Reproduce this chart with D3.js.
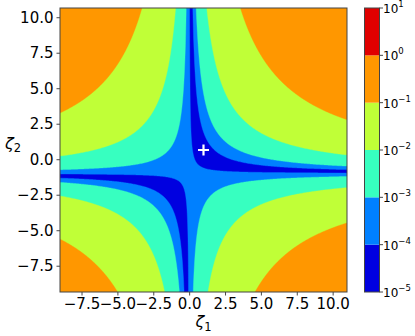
<!DOCTYPE html>
<html>
<head>
<meta charset="utf-8">
<script src="https://cdn.jsdelivr.net/npm/d3@7"></script>
<style>
  html, body { margin: 0; padding: 0; background: #fff; }
  text { font-family: "DejaVu Sans", sans-serif; fill: #000; }
</style>
</head>
<body>
<svg id="chart" width="415" height="336"></svg>
<script>
// contour levels as powers of ten, one colour per band between them
var levelExponents = [-5, -4, -3, -2, -1, 0, 1];
var bandColors = ['#0000e0', '#0080ff', '#37ffc0', '#c0ff37', '#ff9700', '#e00000'];

var xTicks = [-7.5, -5, -2.5, 0, 2.5, 5, 7.5, 10];
var yTicks = [-7.5, -5, -2.5, 0, 2.5, 5, 7.5, 10];
var xDomain = [-9, 11];
var yDomain = [-9.35, 10.65];

// the white cross, sits on the zero set of the loss
var marker = [1, 0.65];

// loss surface: k * (z1 * (z2 + s) - c)^2
var lossScale = 6.25e-5;
var zeta2Shift = 1;

var svg = d3.select('#chart');

var plot = {left: 60, right: 347, top: 8, bottom: 292};
var cbar = {left: 364.5, width: 15};

var x = d3.scaleLinear().domain(xDomain).range([plot.left, plot.right]);
var y = d3.scaleLinear().domain(yDomain).range([plot.bottom, plot.top]);

// sample the field, one grid point per pixel
var n = Math.round(plot.right - plot.left),
    m = Math.round(plot.bottom - plot.top),
    c = marker[0] * (marker[1] + zeta2Shift),
    values = new Array(n * m);

var gx = d3.scaleLinear().domain([0, n]).range([plot.left, plot.right]),
    gy = d3.scaleLinear().domain([0, m]).range([plot.top, plot.bottom]);

for (var j = 0; j < m; j++) {
  var z2 = y.invert(gy(j + 0.5));
  for (var i = 0; i < n; i++) {
    var z1 = x.invert(gx(i + 0.5));
    var u = z1 * (z2 + zeta2Shift) - c;
    var f = lossScale * u * u;
    values[i + j * n] = f > 0 ? Math.max(Math.log10(f), -10) : -10;
  }
}

var contours = d3.contours()
  .size([n, m])
  .thresholds(levelExponents.slice(1, -1))(values);

var toPixels = d3.geoTransform({
  point: function (px, py) {
    this.stream.point(gx(px), gy(py));
  }
});
var path = d3.geoPath(toPixels);

svg.append('clipPath').attr('id', 'plot-clip')
  .append('rect')
    .attr('x', plot.left).attr('y', plot.top)
    .attr('width', plot.right - plot.left)
    .attr('height', plot.bottom - plot.top);

var field = svg.append('g').attr('clip-path', 'url(#plot-clip)');

// lowest band underneath, higher bands painted on top
field.append('rect')
  .attr('x', plot.left).attr('y', plot.top)
  .attr('width', plot.right - plot.left)
  .attr('height', plot.bottom - plot.top)
  .attr('fill', bandColors[0]);

field.selectAll('path.band')
  .data(contours)
  .enter().append('path')
    .attr('class', 'band')
    .attr('d', path)
    .attr('fill', function (d, k) { return bandColors[k + 1]; })
    .attr('stroke', function (d, k) { return bandColors[k + 1]; })
    .attr('stroke-width', 0.4);

// marker
var mx = x(marker[0]), my = y(marker[1]), ms = 5.5;
svg.append('path')
  .attr('d', 'M' + (mx - ms) + ',' + my + 'H' + (mx + ms) +
             'M' + mx + ',' + (my - ms) + 'V' + (my + ms))
  .attr('stroke', '#fff')
  .attr('stroke-width', 2.2)
  .attr('fill', 'none');

// axes
var fmt = d3.format('.1f');

var xAxis = svg.append('g')
  .attr('transform', 'translate(0,' + plot.bottom + ')')
  .call(d3.axisBottom(x).tickValues(xTicks).tickFormat(fmt)
    .tickSize(3.5).tickPadding(2.5));

var yAxis = svg.append('g')
  .attr('transform', 'translate(' + plot.left + ',0)')
  .call(d3.axisLeft(y).tickValues(yTicks).tickFormat(fmt)
    .tickSize(3.5).tickPadding(3));

[xAxis, yAxis].forEach(function (g) {
  g.select('.domain').remove();
  g.selectAll('line').attr('stroke', '#333').attr('stroke-width', 0.9);
  g.selectAll('text')
    .style('font-family', '"DejaVu Sans", sans-serif')
    .style('font-size', '15px')
    .attr('fill', '#000');
});

svg.append('rect')
  .attr('x', plot.left).attr('y', plot.top)
  .attr('width', plot.right - plot.left)
  .attr('height', plot.bottom - plot.top)
  .attr('fill', 'none')
  .attr('stroke', '#444')
  .attr('stroke-width', 1);

// axis labels
function zetaLabel(g, sub) {
  var t = g.append('text').style('font-size', '16px');
  t.append('tspan').style('font-style', 'italic').text('ζ');
  t.append('tspan').attr('dy', 3.5).style('font-size', '11.5px').text(sub);
  return t;
}

zetaLabel(svg, '1')
  .attr('x', (plot.left + plot.right) / 2)
  .attr('y', 327)
  .attr('text-anchor', 'middle');

zetaLabel(svg, '2')
  .attr('x', 5)
  .attr('y', 148.5);

// colour bar
var cy = d3.scaleLog()
  .domain([Math.pow(10, levelExponents[0]), Math.pow(10, levelExponents[levelExponents.length - 1])])
  .range([plot.bottom, plot.top]);

var bar = svg.append('g');
bar.selectAll('rect.seg')
  .data(d3.pairs(levelExponents))
  .enter().append('rect')
    .attr('class', 'seg')
    .attr('x', cbar.left)
    .attr('width', cbar.width)
    .attr('y', function (d) { return cy(Math.pow(10, d[1])); })
    .attr('height', function (d) { return cy(Math.pow(10, d[0])) - cy(Math.pow(10, d[1])); })
    .attr('fill', function (d, k) { return bandColors[k]; });

bar.append('rect')
  .attr('x', cbar.left).attr('y', plot.top)
  .attr('width', cbar.width).attr('height', plot.bottom - plot.top)
  .attr('fill', 'none').attr('stroke', '#444').attr('stroke-width', 1);

var cticks = bar.selectAll('g.ctick')
  .data(levelExponents)
  .enter().append('g')
    .attr('class', 'ctick')
    .attr('transform', function (e) { return 'translate(' + (cbar.left + cbar.width) + ',' + cy(Math.pow(10, e)) + ')'; });

cticks.append('line')
  .attr('x2', 3.5).attr('stroke', '#333').attr('stroke-width', 0.9);

var clabel = cticks.append('text')
  .attr('x', 3.5)
  .attr('y', 5)
  .style('font-size', '12px');
clabel.append('tspan').text('10');
clabel.append('tspan')
  .attr('dy', -6)
  .style('font-size', '8.5px')
  .text(function (e) { return e < 0 ? '\u2212' + (-e) : String(e); });
</script>
</body>
</html>
